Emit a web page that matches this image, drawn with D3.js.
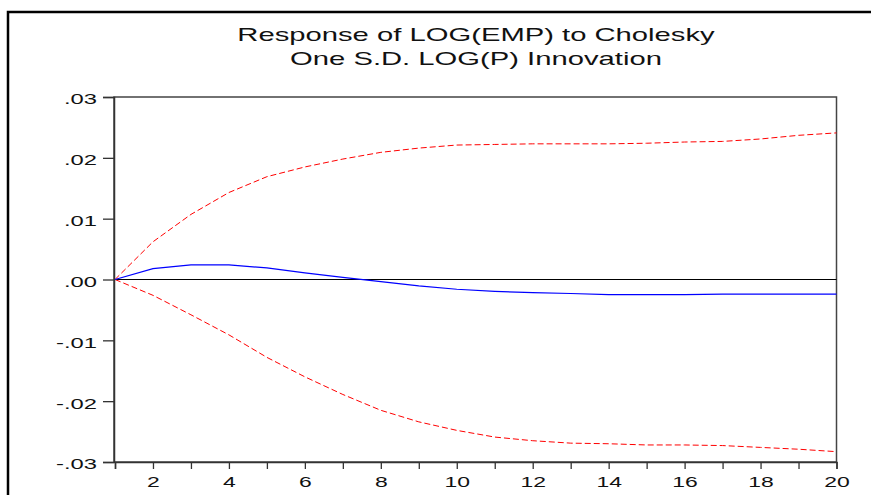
<!DOCTYPE html>
<html>
<head>
<meta charset="utf-8">
<script src="https://cdn.jsdelivr.net/npm/d3@7"></script>
<style>
  html, body { margin: 0; padding: 0; background: #fff; }
  svg { display: block; }
  text { font-family: "Liberation Sans", Arial, sans-serif; fill: #111; }
</style>
</head>
<body>
<svg id="chart" width="871" height="495"></svg>
<script>
// ---- data ----
const periods = [1,2,3,4,5,6,7,8,9,10,11,12,13,14,15,16,17,18,19,20];
const response = [0, 0.0018, 0.0024, 0.0024, 0.0019, 0.0011, 0.00036, -0.00036, -0.00105, -0.0016,
                  -0.00195, -0.00217, -0.0023, -0.0025, -0.0025, -0.0025, -0.0024, -0.0024, -0.0024, -0.0024];
const upperBand = [0, 0.0062, 0.0107, 0.0143, 0.0169, 0.0185, 0.0198, 0.0209, 0.0216, 0.0221,
                   0.0222, 0.0223, 0.0223, 0.0223, 0.0224, 0.0226, 0.0227, 0.0231, 0.0237, 0.0241];
const lowerBand = [0, -0.0026, -0.0058, -0.0091, -0.0128, -0.0160, -0.0189, -0.0215, -0.0234, -0.0248,
                   -0.0259, -0.0265, -0.0269, -0.0270, -0.0272, -0.0272, -0.0273, -0.0276, -0.0279, -0.0283];
const yTicks = [-0.03, -0.02, -0.01, 0, 0.01, 0.02, 0.03];
const xTickLabels = [2,4,6,8,10,12,14,16,18,20];
const titleLines = ["Response of LOG(EMP) to Cholesky", "One S.D. LOG(P) Innovation"];

// ---- layout ----
const svg = d3.select("#chart");
const L = 114, R = 836.5, T = 97, B = 462;
const SX = 1.64; // horizontal stretch of text in reference

const x = d3.scaleLinear().domain([1, 20]).range([L + 1, R]);
const y = d3.scaleLinear().domain([-0.03, 0.03]).range([B, T]);

// outer frame (partially visible)
svg.append("path")
  .attr("d", `M8,500 L8,12 L880,12`)
  .attr("fill", "none").attr("stroke", "#000").attr("stroke-width", 2.5);

// plot box
svg.append("rect")
  .attr("x", L).attr("y", T).attr("width", R - L).attr("height", B - T)
  .attr("fill", "none").attr("stroke", "#444").attr("stroke-width", 1.5);

// zero line
svg.append("line")
  .attr("x1", L).attr("x2", R).attr("y1", y(0)).attr("y2", y(0))
  .attr("stroke", "#000").attr("stroke-width", 1.2);

// y axis
const locale = d3.formatLocale({decimal: ".", thousands: ",", grouping: [3], currency: ["", ""], minus: "-"});
const f2 = locale.format(".2f");
const fmt = v => f2(Math.abs(v) < 1e-12 ? 0 : v).replace(/^(-?)0\./, "$1.");
const yAxis = svg.append("g")
  .attr("transform", `translate(${L},0)`)
  .call(d3.axisLeft(y).tickValues(yTicks).tickSize(11).tickFormat(fmt));
yAxis.select(".domain").attr("stroke", "#333").attr("stroke-width", 1.5);
yAxis.selectAll(".tick line").attr("stroke", "#333").attr("stroke-width", 1.3);
yAxis.selectAll(".tick text")
  .attr("x", 0).attr("dy", "0.48em")
  .attr("transform", `translate(-17,0) scale(${SX},1)`)
  .attr("font-size", 14.5).attr("fill", "#111");

// x axis
const xAxis = svg.append("g")
  .attr("transform", `translate(0,${B})`)
  .call(d3.axisBottom(x).tickValues(periods).tickSize(7)
        .tickFormat(d => xTickLabels.includes(d) ? String(d) : ""));
xAxis.select(".domain").attr("stroke", "#333").attr("stroke-width", 1.5);
xAxis.selectAll(".tick line").attr("stroke", "#333").attr("stroke-width", 1.3);
xAxis.selectAll(".tick text")
  .attr("y", 0).attr("dy", 0)
  .attr("transform", `translate(0,25) scale(${SX},1)`)
  .attr("font-size", 14).attr("fill", "#111");

// lines
const line = d3.line().x((d, i) => x(periods[i])).y(d => y(d));
svg.append("path").datum(upperBand)
  .attr("d", line).attr("fill", "none")
  .attr("stroke", "#ff0000").attr("stroke-width", 1).attr("stroke-dasharray", "6,3");
svg.append("path").datum(lowerBand)
  .attr("d", line).attr("fill", "none")
  .attr("stroke", "#ff0000").attr("stroke-width", 1).attr("stroke-dasharray", "6,3");
svg.append("path").datum(response)
  .attr("d", line).attr("fill", "none")
  .attr("stroke", "#0000ff").attr("stroke-width", 1.2);

// title
const cx = 476;
[41, 64.5].forEach((by, i) => {
  svg.append("text")
    .attr("transform", `translate(${cx},${by}) scale(1.67,1)`)
    .attr("text-anchor", "middle")
    .attr("font-size", 17.5)
    .text(titleLines[i]);
});
</script>
</body>
</html>
